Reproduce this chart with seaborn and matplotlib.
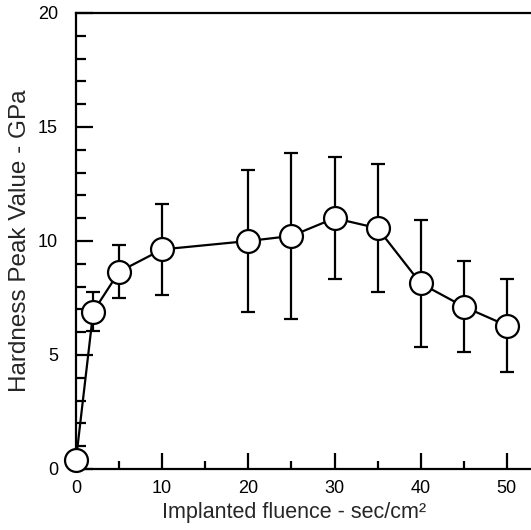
import matplotlib
matplotlib.use("Agg")
import matplotlib.pyplot as plt
import seaborn as sns
import pandas as pd
from matplotlib.ticker import MultipleLocator

# values
fluence = [0, 2, 5, 10, 20, 25, 30, 35, 40, 45, 50]
hardness = [0.4, 6.9, 8.65, 9.63, 10.0, 10.22, 11.0, 10.56, 8.14, 7.12, 6.29]
err = [0.0, 0.85, 1.17, 2.0, 3.1, 3.66, 2.67, 2.8, 2.8, 2.0, 2.05]

df = pd.DataFrame({"fluence": fluence, "hardness": hardness, "err": err})

sns.set_style("ticks")
plt.rcParams["font.family"] = ["Liberation Sans", "DejaVu Sans"]

fig = plt.figure(figsize=(5.31, 5.30), dpi=100)
ax = fig.add_axes([0.1431, 0.1151, 0.8569, 0.8604])

# error bars first so the white markers sit on top
ax.errorbar(df["fluence"], df["hardness"], yerr=df["err"], fmt="none",
            ecolor="black", elinewidth=1.6, capsize=4.8, capthick=1.6, zorder=2)
sns.lineplot(data=df, x="fluence", y="hardness", ax=ax, color="black",
             linewidth=1.6, marker="o", markersize=16.5,
             markerfacecolor="white", markeredgecolor="black",
             markeredgewidth=1.6, zorder=3, clip_on=False)

ax.set_xlim(0, 52.8)
ax.set_ylim(0, 20)
ax.xaxis.set_major_locator(MultipleLocator(10))
ax.xaxis.set_minor_locator(MultipleLocator(5))
ax.yaxis.set_major_locator(MultipleLocator(5))
ax.yaxis.set_minor_locator(MultipleLocator(1))
ax.tick_params(which="both", direction="in", width=1.6, colors="black",
               labelsize=13, top=False, right=False)
ax.tick_params(axis="y", which="major", length=12.5, pad=13)
ax.tick_params(axis="y", which="minor", length=7)
ax.tick_params(axis="x", which="major", length=11.5, pad=8)
ax.tick_params(axis="x", which="minor", length=6)

for side in ["left", "top", "bottom"]:
    ax.spines[side].set_linewidth(1.6)
    ax.spines[side].set_color("black")
ax.spines["right"].set_visible(False)

ax.set_xlabel("Implanted fluence - sec/cm²", fontsize=15.5)
ax.xaxis.set_label_coords(0.479, -0.072)
ax.set_ylabel("Hardness Peak Value - GPa", fontsize=17.5, labelpad=5)

fig.savefig("out.png", dpi=100)
